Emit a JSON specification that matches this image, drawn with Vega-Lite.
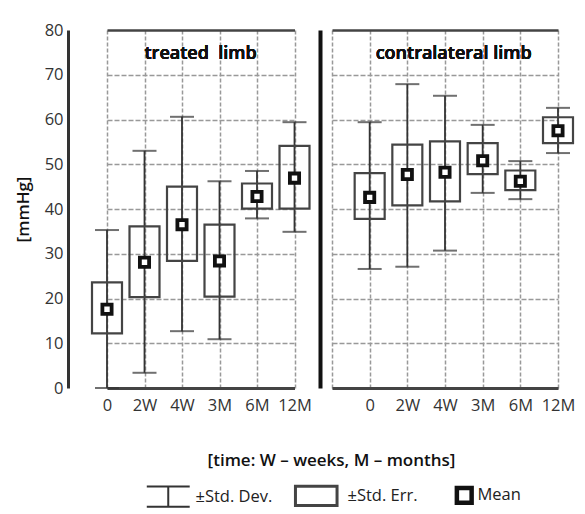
{
  "$schema": "https://vega.github.io/schema/vega-lite/v6.json",
  "padding": {"left": 14, "top": 22, "right": 0, "bottom": 0},
  "autosize": {"type": "pad"},
  "bounds": "flush",
  "spacing": 0,
  "config": {
    "font": "Open Sans",
    "view": {"stroke": null},
    "axis": {"labelFont": "Open Sans", "titleFont": "Open Sans", "labelFontSize": 16.5, "labelColor": "#333", "titleColor": "#111", "titleFontSize": 17, "titleFontWeight": 600}
  },
  "datasets": {
    "stats": [
      {"limb": "treated", "time": "0", "mean": 17.6, "seLow": 12.2, "seHigh": 23.6, "sdLow": 0, "sdHigh": 35.3},
      {"limb": "treated", "time": "2W", "mean": 28.1, "seLow": 20.3, "seHigh": 36.1, "sdLow": 3.4, "sdHigh": 53.0},
      {"limb": "treated", "time": "4W", "mean": 36.5, "seLow": 28.4, "seHigh": 45.0, "sdLow": 12.7, "sdHigh": 60.6},
      {"limb": "treated", "time": "3M", "mean": 28.4, "seLow": 20.4, "seHigh": 36.5, "sdLow": 10.9, "sdHigh": 46.2},
      {"limb": "treated", "time": "6M", "mean": 42.8, "seLow": 40.1, "seHigh": 45.7, "sdLow": 37.9, "sdHigh": 48.5},
      {"limb": "treated", "time": "12M", "mean": 46.9, "seLow": 40.1, "seHigh": 54.1, "sdLow": 34.9, "sdHigh": 59.4},
      {"limb": "contralateral", "time": "0", "mean": 42.6, "seLow": 37.8, "seHigh": 48.0, "sdLow": 26.6, "sdHigh": 59.4},
      {"limb": "contralateral", "time": "2W", "mean": 47.7, "seLow": 40.8, "seHigh": 54.4, "sdLow": 27.1, "sdHigh": 67.9},
      {"limb": "contralateral", "time": "4W", "mean": 48.2, "seLow": 41.7, "seHigh": 55.1, "sdLow": 30.7, "sdHigh": 65.3},
      {"limb": "contralateral", "time": "3M", "mean": 50.8, "seLow": 47.8, "seHigh": 54.7, "sdLow": 43.6, "sdHigh": 58.8},
      {"limb": "contralateral", "time": "6M", "mean": 46.2, "seLow": 44.2, "seHigh": 48.6, "sdLow": 42.2, "sdHigh": 50.7},
      {"limb": "contralateral", "time": "12M", "mean": 57.5, "seLow": 54.7, "seHigh": 60.5, "sdLow": 52.5, "sdHigh": 62.6}
    ]
  },
  "data": {"name": "stats"},
  "resolve": {"scale": {"x": "independent", "y": "independent", "color": "shared"}},
  "hconcat": [
    {
      "width": 252,
      "height": 358,
      "transform": [{"filter": "datum.limb === 'treated'"}],
      "encoding": {
        "x": {
          "field": "time", "type": "ordinal",
          "scale": {"type": "point", "padding": 0, "domain": ["0", "2W", "4W", "3M", "6M", "12M"], "range": [39, 226.5]},
          "axis": {"title": "[time: W – weeks, M – months]", "titleX": 263, "titleY": 64, "titleAlign": "center", "titleBaseline": "top", "ticks": false, "labelPadding": 9, "labelAngle": 0, "domainWidth": 3, "domainColor": "#444", "grid": true, "gridDash": [4, 2], "gridColor": "#999", "gridWidth": 1.5}
        }
      },
      "layer": [
        {
          "mark": {"type": "text", "align": "left", "baseline": "middle", "fontSize": 18, "fontWeight": 600, "color": "#111"},
          "encoding": {"x": {"datum": "2W"}, "y": {"datum": 74.6}, "text": {"value": "treated\u00a0 limb"}}
        },
        {
          "mark": {"type": "rule", "strokeWidth": 1.8},
          "encoding": {
            "y": {"field": "sdLow", "type": "quantitative", "scale": {"domain": [0, 80]},
              "axis": {"title": "[mmHg]", "values": [0, 10, 20, 30, 40, 50, 60, 70, 80], "ticks": false, "labelPadding": 5, "domainWidth": 3, "domainColor": "#333", "grid": true, "gridDash": {"condition": {"test": "datum.value === 80", "value": []}, "value": [5, 2]}, "gridColor": {"condition": {"test": "datum.value === 80", "value": "#444"}, "value": "#999"}, "gridWidth": {"condition": {"test": "datum.value === 80", "value": 2.5}, "value": 1.5}, "titlePadding": 12}},
            "y2": {"field": "sdHigh"},
            "color": {
              "datum": "±Std. Dev.",
              "scale": {"domain": ["±Std. Dev.", "±Std. Err.", "Mean"], "range": ["#333", "#444", "#111"]},
              "legend": {
                "title": null, "orient": "none", "direction": "horizontal", "legendX": 92, "legendY": 457, "gridAlign": "all",
                "symbolSize": 720, "labelOffset": 19, "columnPadding": 16, "labelFontSize": 16.5, "labelFont": "Open Sans", "labelColor": "#222",
                "encode": {
                  "symbols": {"update": {
                    "shape": {"signal": "datum.value === 'Mean' ? 'M-0.55,-0.55H0.55V0.55H-0.55Z' : datum.value === '±Std. Err.' ? 'M-1.55,-0.72H1.55V0.72H-1.55Z' : 'M-1.6,-0.75H1.6M0,-0.75V0.75M-1.6,0.75H1.6'"},
                    "fill": {"signal": "datum.value === 'Mean' ? 'white' : 'transparent'"},
                    "stroke": {"signal": "datum.value === 'Mean' ? '#000' : '#555'"},
                    "strokeWidth": {"signal": "datum.value === 'Mean' ? 4.5 : datum.value === '±Std. Err.' ? 3 : 2"},
                    "opacity": {"value": 1}
                  }},
                  "labels": {"update": {"dx": {"signal": "datum.value === 'Mean' ? -14 : datum.value === '±Std. Err.' ? 4 : 0"}}}
                }
              }
            }
          }
        },
        {
          "mark": {"type": "tick", "size": 24, "thickness": 2, "color": "#333"},
          "encoding": {"y": {"field": "sdLow", "type": "quantitative"}}
        },
        {
          "mark": {"type": "tick", "size": 24, "thickness": 2, "color": "#333"},
          "encoding": {"y": {"field": "sdHigh", "type": "quantitative"}}
        },
        {
          "mark": {"type": "bar", "filled": false, "size": 30, "strokeWidth": 2.2},
          "encoding": {"y": {"field": "seLow", "type": "quantitative"}, "y2": {"field": "seHigh"}, "color": {"datum": "±Std. Err."}}
        },
        {
          "mark": {"type": "point", "shape": "square", "filled": false, "fill": "white", "size": 85, "strokeWidth": 3.8, "opacity": 1},
          "encoding": {"y": {"field": "mean", "type": "quantitative"}, "color": {"datum": "Mean"}}
        }
      ]
    },
    {
      "width": 264,
      "height": 358,
      "transform": [{"filter": "datum.limb === 'contralateral'"}],
      "encoding": {
        "x": {
          "field": "time", "type": "ordinal",
          "scale": {"type": "point", "padding": 0, "domain": ["", "0", "2W", "4W", "3M", "6M", "12M"], "range": [12, 238]},
          "axis": {"title": null, "ticks": false, "labelPadding": 9, "labelAngle": 0, "domainWidth": 3, "domainColor": "#444", "grid": true, "gridDash": [4, 2], "gridColor": "#999", "gridWidth": 1.5}
        }
      },
      "layer": [
        {
          "mark": {"type": "text", "align": "left", "baseline": "middle", "fontSize": 18, "fontWeight": 600, "color": "#111", "dx": 6},
          "encoding": {"x": {"datum": "0"}, "y": {"datum": 74.6}, "text": {"value": "contralateral limb"}}
        },
        {
          "mark": {"type": "rule", "strokeWidth": 1.8},
          "encoding": {
            "y": {"field": "sdLow", "type": "quantitative", "scale": {"domain": [0, 80]},
              "axis": {"title": null, "labels": false, "ticks": false, "values": [0, 10, 20, 30, 40, 50, 60, 70, 80], "domainWidth": 4, "domainColor": "#111", "grid": true, "gridDash": {"condition": {"test": "datum.value === 80", "value": []}, "value": [5, 2]}, "gridColor": {"condition": {"test": "datum.value === 80", "value": "#444"}, "value": "#999"}, "gridWidth": {"condition": {"test": "datum.value === 80", "value": 2.5}, "value": 1.5}}},
            "y2": {"field": "sdHigh"},
            "color": {"datum": "±Std. Dev."}
          }
        },
        {
          "mark": {"type": "tick", "size": 24, "thickness": 2, "color": "#333"},
          "encoding": {"y": {"field": "sdLow", "type": "quantitative"}}
        },
        {
          "mark": {"type": "tick", "size": 24, "thickness": 2, "color": "#333"},
          "encoding": {"y": {"field": "sdHigh", "type": "quantitative"}}
        },
        {
          "mark": {"type": "bar", "filled": false, "size": 30, "strokeWidth": 2.2},
          "encoding": {"y": {"field": "seLow", "type": "quantitative"}, "y2": {"field": "seHigh"}, "color": {"datum": "±Std. Err."}}
        },
        {
          "mark": {"type": "point", "shape": "square", "filled": false, "fill": "white", "size": 85, "strokeWidth": 3.8, "opacity": 1},
          "encoding": {"y": {"field": "mean", "type": "quantitative"}, "color": {"datum": "Mean"}}
        }
      ]
    }
  ],
  "encoding": {}
}
